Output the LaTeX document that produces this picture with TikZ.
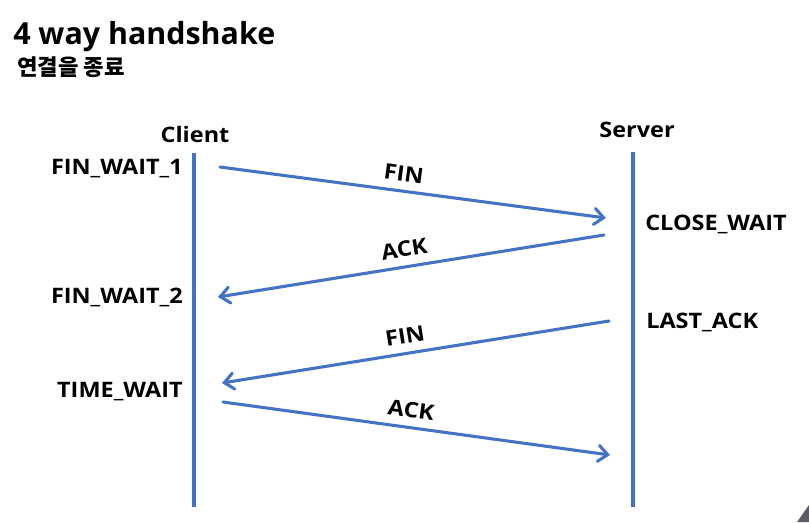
\documentclass[tikz,border=0pt]{standalone}
\usepackage{fontspec}
\setmainfont{Open Sans}
\newfontfamily\labelfont{Open Sans}[FakeStretch=1.1]
\newfontfamily\krfont{Noto Sans CJK KR}
\usetikzlibrary{arrows.meta}
\definecolor{msgblue}{HTML}{4472C4}
\definecolor{cornergray}{HTML}{5B5B6B}

\begin{document}
\begin{tikzpicture}[x=0.75pt,y=-0.75pt,
    life/.style={draw=msgblue, line width=2.3pt},
    msg/.style={draw=msgblue, line width=2.3pt, line cap=round,
      -{Straight Barb[length=7pt,width=12pt,line cap=round]}},
    state/.style={font=\labelfont\bfseries\fontsize{16}{19}\selectfont, inner sep=0pt},
    lbl/.style={font=\labelfont\bfseries\fontsize{16}{19}\selectfont, sloped, above=3pt}]
  \useasboundingbox (0,0) rectangle (809,522);
  \fill[cornergray] (797,522) -- (809,505) -- (809,522) -- cycle;

  % title
  \node[anchor=base west, inner sep=0pt, font=\bfseries\fontsize{22.8}{28}\selectfont] (title) at (13,44) {4 way handshake};
  \node[anchor=base west, inner sep=0pt, font=\krfont\bfseries\fontsize{16.7}{20}\selectfont] (sub) at (17,75) {연결을 종료};

  % lifelines
  \node[state, anchor=base] (client) at (195,142) {Client};
  \node[state, anchor=base] (server) at (637,137) {Server};
  \coordinate (ctop) at (194,153);
  \coordinate (cbot) at (194,507);
  \coordinate (stop) at (633,152);
  \coordinate (sbot) at (633,507);
  \draw[life] (ctop) -- (cbot);
  \draw[life] (stop) -- (sbot);

  % states
  \node[state, anchor=base east] (fw1) at (183,174) {FIN\_WAIT\_1};
  \node[state, anchor=base east] (fw2) at (183,303) {FIN\_WAIT\_2};
  \node[state, anchor=base east] (tw) at (183,397) {TIME\_WAIT};
  \node[state, anchor=base west] (cw) at (645,230) {CLOSE\_WAIT};
  \node[state, anchor=base west] (la) at (646,328) {LAST\_ACK};

  % messages
  \coordinate (m1a) at (220,167);
  \coordinate (m1b) at (606,218);
  \coordinate (m2a) at (604,235);
  \coordinate (m2b) at (218,297);
  \coordinate (m3a) at (609,321);
  \coordinate (m3b) at (222,383);
  \coordinate (m4a) at (223,402);
  \coordinate (m4b) at (610,455);
  \draw[msg] (m1a) -- node[lbl, pos=0.47] {FIN} (m1b);
  \draw[msg] (m2a) -- node[lbl, pos=0.51] {ACK} (m2b);
  \draw[msg] (m3a) -- node[lbl, pos=0.52] {FIN} (m3b);
  \draw[msg] (m4a) -- node[lbl, pos=0.48] {ACK} (m4b);
\end{tikzpicture}
\end{document}
